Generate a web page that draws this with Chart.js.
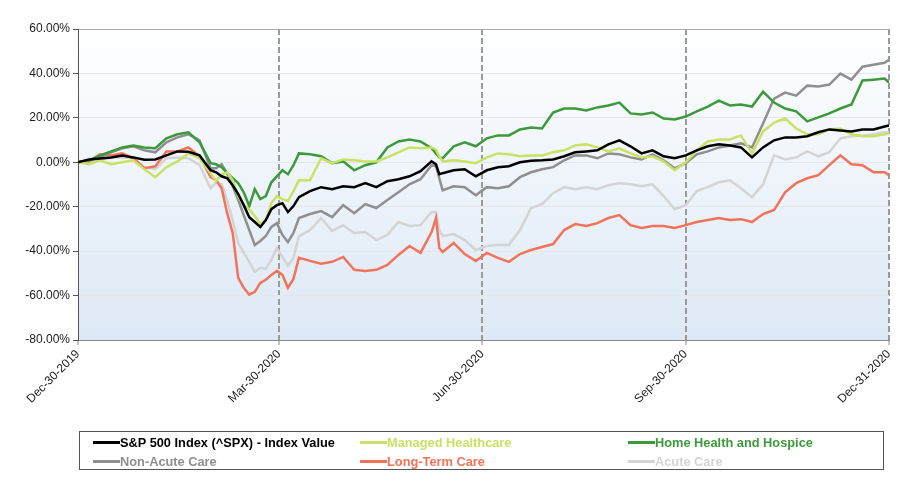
<!DOCTYPE html>
<html>
<head>
<meta charset="utf-8">
<script src="https://cdn.jsdelivr.net/npm/chart.js@4.4.1/dist/chart.umd.min.js"></script>
<style>
  html, body { margin: 0; padding: 0; background: #fff; }
  #wrap { position: relative; width: 919px; height: 486px; }
  #legend {
    position: absolute; left: 79px; top: 431px; width: 805px; height: 39px;
    border: 1px solid #555; box-sizing: border-box;
    display: grid; grid-template-columns: 267px 268px auto; grid-auto-rows: 19px;
    padding: 1px 0 0 13px;
    font: bold 12.8px "Liberation Sans", Arial, sans-serif;
  }
  #legend .item { display: flex; align-items: center; white-space: nowrap; }
  #legend .sw { width: 27px; height: 2.5px; margin-right: 0; }
</style>
</head>
<body>
<div id="wrap">
  <canvas id="chart" width="919" height="486"></canvas>
  <div id="legend"></div>
</div>
<script>
//? data
const days = [0, 5, 10, 15, 20, 25, 30, 35, 40, 45, 50, 55, 60, 62.5, 65, 67.5, 70, 72.5, 75, 77.5, 80, 82.5, 85, 87.5, 90, 92.5, 95, 97.5, 100,
  105, 110, 115, 120, 125, 130, 135, 140, 145, 150, 155, 160, 162, 163.5, 165, 170, 175, 180, 185, 190, 195, 200,
  205, 210, 215, 220, 225, 230, 235, 240, 245, 250, 255, 260, 265, 270, 275, 280, 285, 290, 295, 300,
  305, 310, 315, 320, 325, 330, 335, 340, 345, 350, 355, 360, 365, 367]

const tickDays = [0, 91, 183, 275, 367]
const tickLabels = ['Dec-30-2019', 'Mar-30-2020', 'Jun-30-2020', 'Sep-30-2020', 'Dec-31-2020']

const spx = [0, 1.3, 1.7, 2.2, 3.1, 2.2, 1.1, 1.3, 3.1, 4.9, 4.7, 3.1, -3.6, -4.5, -6.3, -7.2, -10.3, -14.3, -19.3, -24.7, -26.9, -29.1, -26.0, -21.1, -19.3, -18.4, -22.4, -19.7, -15.7,
  -13.0, -11.2, -12.1, -10.8, -11.2, -9.4, -11.2, -8.5, -7.6, -6.3, -4.0, 0.4, -0.9, -5.4, -4.9, -3.6, -3.1, -6.3, -3.6, -2.2, -1.8, 0,
  0.7, 0.9, 1.3, 2.7, 4.5, 4.9, 5.4, 8.1, 9.9, 7.2, 4.0, 5.4, 2.7, 1.8, 3.1, 5.4, 7.2, 8.1, 7.6, 6.7,
  2.2, 6.7, 9.9, 11.2, 11.2, 11.7, 13.5, 14.8, 14.3, 13.9, 14.8, 14.8, 16.1, 16.6]

const managed = [0, -0.9, 0.9, -0.9, 0, 0.9, -3.1, -6.7, -2.2, 0.4, 4.0, 1.8, -4.9, -8.5, -5.4, -4.5, -8.1, -15.2, -19.3, -21.1, -24.2, -27.8, -26.0, -18.4, -15.2, -16.6, -17.5, -13.0, -8.1,
  -8.1, 1.8, -0.4, 1.3, 0.9, 0.4, 0.4, 2.2, 4.5, 6.7, 6.3, 6.7, 5.8, 2.7, 0.4, 0.9, 0.4, -0.4, 2.2, 4.0, 3.6, 2.7,
  3.1, 3.1, 4.5, 5.4, 7.6, 8.1, 6.7, 4.9, 6.3, 4.0, 2.2, 2.7, 0.4, -3.6, 0, 5.4, 9.4, 10.3, 10.3, 12.1,
  4.0, 13.9, 17.9, 19.7, 15.2, 12.6, 12.6, 14.8, 15.2, 12.6, 11.7, 11.7, 12.6, 13.0]

const homeHealth = [0, 0.9, 3.1, 4.9, 6.7, 7.6, 6.7, 6.3, 10.8, 12.6, 13.5, 9.0, -0.4, -0.9, -2.2, -4.9, -7.2, -9.4, -13.5, -19.7, -12.1, -16.6, -15.2, -9.0, -6.3, -3.6, -5.4, -1.3, 4.0,
  3.6, 2.7, -0.4, 0.4, -3.6, -1.3, 0, 6.7, 9.4, 10.3, 9.4, 6.3, 4.0, 2.2, 1.8, 7.2, 9.0, 7.2, 10.8, 12.1, 12.1, 14.8,
  15.7, 15.2, 22.4, 24.2, 24.2, 23.3, 24.7, 25.6, 26.9, 22.0, 21.5, 22.4, 19.7, 19.3, 20.6, 22.9, 25.1, 27.8, 25.6, 26.0,
  25.1, 31.8, 26.9, 24.2, 22.9, 18.4, 20.2, 22.0, 24.2, 26.0, 36.8, 37.2, 37.7, 35.9]

const nonAcute = [0, 0.9, 2.2, 4.5, 6.3, 7.2, 5.4, 4.5, 9.0, 11.2, 12.6, 9.9, -2.7, -2.7, -0.9, -4.9, -10.8, -17.0, -23.8, -30.5, -37.2, -35.4, -33.2, -29.1, -27.4, -32.7, -35.9, -31.8, -25.1,
  -23.3, -22.0, -24.7, -19.3, -22.9, -18.8, -20.6, -17.0, -13.5, -9.9, -7.6, -1.3, -1.8, -7.2, -12.6, -10.8, -11.2, -14.8, -11.2, -11.7, -10.8, -6.7,
  -4.5, -3.1, -2.2, 0.9, 3.1, 3.1, 1.8, 4.0, 3.6, 2.2, 1.3, 3.6, 0.9, -2.7, -0.4, 3.6, 4.9, 6.7, 7.6, 8.5,
  6.7, 17.5, 28.7, 31.4, 30.0, 34.5, 34.1, 35.0, 39.9, 37.2, 43.0, 43.9, 44.8, 46.2]

const longTerm = [0, 0.4, 3.6, 3.1, 4.0, 1.8, -2.7, -1.8, 4.9, 4.9, 6.7, 2.7, -6.7, -8.1, -11.7, -22.9, -31.8, -52.0, -56.5, -59.6, -58.3, -54.3, -52.9, -50.7, -48.9, -50.7, -56.5, -52.5, -43.0,
  -44.4, -45.7, -44.8, -42.6, -48.4, -48.9, -48.4, -46.2, -41.7, -37.7, -40.8, -31.4, -25.1, -38.6, -40.4, -36.3, -41.3, -44.4, -40.8, -43.0, -44.8, -41.3,
  -39.5, -38.1, -36.8, -30.5, -27.8, -28.7, -27.4, -25.1, -23.8, -28.3, -29.6, -28.7, -28.7, -29.6, -28.3, -26.9, -26.0, -25.1, -26.0, -25.6,
  -26.9, -23.3, -21.5, -13.5, -9.4, -7.2, -5.8, -1.3, 3.1, -0.9, -1.3, -4.5, -4.5, -5.8]

const acute = [0, 0.4, 1.3, 2.2, 2.2, 2.2, -2.2, -3.1, 1.8, 2.2, 1.8, -1.3, -11.7, -9.0, -9.9, -17.0, -26.0, -36.3, -40.8, -44.8, -49.3, -47.5, -48.0, -43.9, -38.6, -42.6, -46.6, -43.0, -33.2,
  -30.5, -25.1, -30.9, -28.3, -31.8, -31.4, -35.0, -32.7, -26.9, -28.7, -28.3, -22.4, -22.4, -30.5, -33.2, -32.3, -35.0, -39.5, -37.7, -37.2, -37.2, -30.5,
  -20.6, -18.8, -13.9, -11.2, -12.1, -11.2, -12.1, -10.3, -9.4, -9.9, -10.8, -9.9, -15.2, -21.1, -19.3, -13.0, -11.2, -9.0, -8.1, -11.7,
  -15.7, -9.9, 3.1, 1.3, 2.2, 4.9, 2.7, 4.5, 10.8, 11.7, 12.1, 12.6, 13.5, 13.5]

const seriesNames = ['S&P 500 Index (^SPX) - Index Value', 'Managed Healthcare', 'Home Health and Hospice',
  'Non-Acute Care', 'Long-Term Care', 'Acute Care']
const seriesValues = [spx, managed, homeHealth, nonAcute, longTerm, acute]
const seriesColors = ['#000000', '#c9e165', '#3c9a3c', '#8f8f8f', '#f2735a', '#d4d4d4']

//? plot background
const plotBackground = {
    id: 'plotBackground',
    beforeDraw(chart) {
        const { ctx, chartArea: a } = chart
        const g = ctx.createLinearGradient(0, a.top, 0, a.bottom)
        g.addColorStop(0, '#ffffff')
        g.addColorStop(1, '#dce8f5')
        ctx.save()
        ctx.fillStyle = g
        ctx.fillRect(a.left, a.top, a.right - a.left, a.bottom - a.top)
        ctx.restore()
    }
}

const datasets = seriesNames.map((name, i) => ({
    label: name,
    data: days.map((d, j) => ({ x: d, y: seriesValues[i][j] })),
    borderColor: seriesColors[i],
    backgroundColor: seriesColors[i],
    borderWidth: 2.5,
    pointRadius: 0,
    tension: 0
}))

const config = {
    type: 'line',
    data: { datasets },
    plugins: [plotBackground],
    options: {
        responsive: false,
        animation: false,
        layout: { padding: { left: 0, right: 30, top: 29, bottom: 0 } },
        plugins: { legend: { display: false }, tooltip: { enabled: false } },
        scales: {
            x: {
                type: 'linear',
                min: 0,
                max: 367,
                afterBuildTicks(scale) {
                    scale.ticks = tickDays.map(v => ({ value: v }))
                },
                afterFit(scale) { scale.height = 146 },
                ticks: {
                    autoSkip: false,
                    minRotation: 45,
                    maxRotation: 45,
                    color: '#222',
                    padding: 2,
                    font: { family: 'Liberation Sans, Arial, sans-serif', size: 12 },
                    callback: (v, i) => tickLabels[i]
                },
                grid: {
                    color: ctx => ctx.index === 0 ? 'rgba(0,0,0,0)' : '#9a9a9a',
                    lineWidth: 2,
                    tickLength: 5,
                    tickColor: '#888',
                    tickWidth: 1
                },
                border: { color: '#888', width: 1, dash: [6, 3] }
            },
            y: {
                min: -80,
                max: 60,
                afterFit(scale) { scale.width = 78 },
                ticks: {
                    stepSize: 20,
                    color: '#222',
                    padding: 3,
                    font: { family: 'Liberation Sans, Arial, sans-serif', size: 12 },
                    callback: v => v.toFixed(2) + '%'
                },
                grid: {
                    color: ctx => ctx.tick && ctx.tick.value === 60 ? '#aaaaaa' : '#e3e6ea',
                    lineWidth: 1,
                    tickLength: 5,
                    tickColor: '#555'
                },
                border: { color: '#555', width: 1 }
            }
        }
    }
}

const chart = new Chart(document.getElementById('chart'), config)

//? legend
const legend = document.getElementById('legend')
seriesNames.forEach((name, i) => {
    const item = document.createElement('div')
    item.className = 'item'
    const sw = document.createElement('span')
    sw.className = 'sw'
    sw.style.background = seriesColors[i]
    const txt = document.createElement('span')
    txt.textContent = name
    txt.style.color = seriesColors[i]
    item.appendChild(sw)
    item.appendChild(txt)
    legend.appendChild(item)
})
</script>
</body>
</html>
